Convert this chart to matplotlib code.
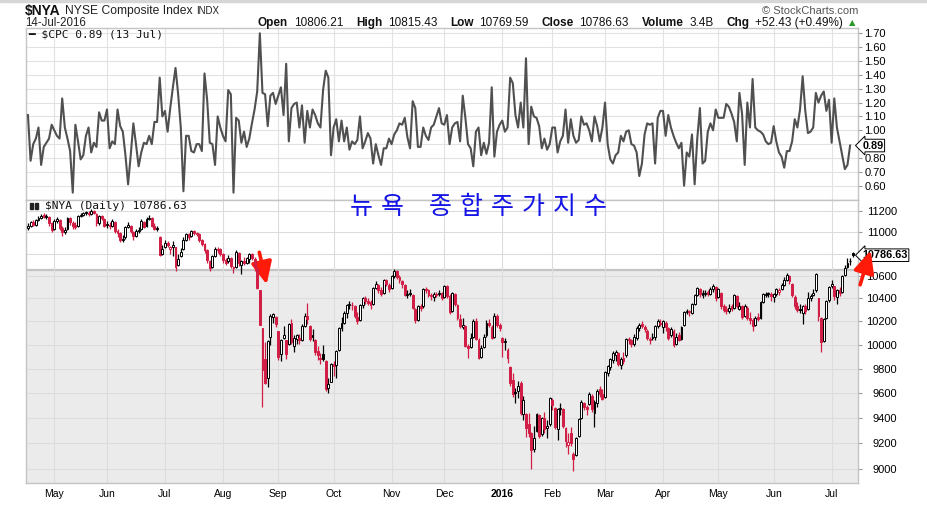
import numpy as np
import pandas as pd
import matplotlib
matplotlib.use("Agg")
import matplotlib.pyplot as plt
from matplotlib.patches import Rectangle
from matplotlib.ticker import NullLocator, NullFormatter

W, H = 928, 513
plt.rcParams['font.family'] = ['Liberation Sans', 'DejaVu Sans']

# trading calendar of the chart (NYSE days)
start_day = "2015-04-17"
end_day = "2016-07-14"
holidays = ["2015-05-25", "2015-07-03", "2015-09-07", "2015-11-26", "2015-12-25",
            "2016-01-01", "2016-01-18", "2016-02-15", "2016-03-25", "2016-05-30", "2016-07-04"]

# $CPC (put/call ratio), daily up to 13 Jul 2016
cpc = [
    1.11, 0.78, 0.90, 0.94, 1.02, 0.75, 0.88, 0.91, 0.94, 1.04,
    1.00, 0.96, 0.94, 1.23, 1.02, 0.94, 0.85, 0.55, 1.04, 0.92,
    0.79, 0.82, 0.96, 1.02, 0.84, 0.91, 0.88, 1.13, 1.07, 1.07,
    1.15, 0.87, 0.92, 0.90, 1.15, 1.03, 0.99, 0.82, 0.61, 0.82,
    1.05, 0.90, 0.74, 0.84, 0.91, 0.90, 0.96, 0.90, 1.06, 1.06,
    1.38, 1.10, 1.14, 0.99, 1.16, 1.31, 1.45, 1.26, 1.02, 0.56,
    0.96, 0.96, 0.85, 0.84, 0.90, 0.90, 0.85, 1.41, 1.22, 0.91,
    0.90, 0.75, 1.10, 1.02, 0.96, 0.92, 1.29, 1.26, 0.55, 1.09,
    1.07, 0.91, 0.99, 0.88, 0.94, 1.05, 1.15, 1.28,
    1.70, 1.27, 1.26, 1.03, 1.25, 1.27, 1.19, 1.25, 1.31, 1.11,
    1.48, 0.92, 1.16, 1.19, 1.20, 1.02, 1.18, 0.91, 1.14, 1.02,
    1.15, 1.11, 1.05, 1.02, 1.29, 1.43, 1.38, 0.82, 1.02, 1.08,
    0.92, 1.07, 0.92, 1.02, 0.86, 0.92, 0.90, 0.93, 1.10, 0.87,
    0.92, 0.98, 0.94, 0.76, 0.90, 0.82, 0.75, 0.87, 0.87, 0.94,
    0.90, 0.97, 1.00, 1.05, 1.04, 1.09, 0.95, 0.87, 1.21, 1.16,
    0.88, 0.88, 1.02, 0.96, 0.93,
    1.02, 1.04, 1.10, 1.16, 1.05, 1.04, 1.11, 0.90, 1.02, 1.05,
    1.06, 0.92, 1.25, 1.09, 0.90, 0.87, 0.74, 0.99, 1.02, 0.82,
    0.91, 0.83, 0.91, 1.31, 0.81, 0.99, 1.04, 1.07, 0.99, 1.02,
    1.38, 1.34, 1.11, 1.02, 1.20, 1.02, 1.52, 0.90, 1.17, 1.10,
    1.09, 1.03, 0.87, 0.94, 0.86, 0.90, 1.02, 1.02, 0.84, 0.92,
    0.96, 1.15, 0.91, 1.08, 0.96, 0.91, 0.93, 1.10, 1.04, 1.05,
    1.00, 0.92, 1.10, 1.03, 0.92, 1.02, 1.20, 0.90, 0.79, 0.76,
    0.82, 0.84, 0.96, 0.92, 0.99, 1.00, 0.90, 0.89, 0.84, 0.67,
    0.76, 0.97, 1.05, 1.04, 1.05, 0.76, 1.09, 1.14, 1.14, 0.96,
    1.11, 1.02, 0.96, 0.91, 0.87, 0.91, 0.60, 0.84, 0.81, 0.97,
    0.61, 0.94, 1.16, 0.76, 0.78, 0.99, 1.05, 1.00, 1.15, 1.09,
    1.09, 1.09, 1.19, 1.17, 1.12, 1.06, 0.92, 1.27, 1.12, 0.75,
    1.20, 1.02, 1.37, 1.02, 1.00, 0.99, 0.97, 0.92, 0.90, 0.91,
    1.03, 0.92, 0.84, 0.81, 0.73, 0.85, 0.85, 0.92, 1.08, 1.02,
    1.15, 1.39, 1.14, 0.98, 0.99, 1.02, 1.27, 1.20, 1.25, 1.28,
    1.14, 1.22, 0.91, 1.23, 1.02, 0.92, 0.82, 0.72, 0.75, 0.89,
]

# $NYA daily OHLC
opens = [
    11040, 11060, 11090, 11070, 11110, 11130, 11160, 11140, 11140, 11080,
    11030, 11100, 11110, 11040, 11000, 11030, 11130, 11080, 11070, 11060,
    11150, 11160, 11180, 11180, 11170, 11200, 11170, 11080, 11150, 11120,
    11070, 11070, 11060, 11090, 11010, 10990, 10930, 10950, 11050, 11060,
    11000, 10960, 11010, 11030, 11090, 11060, 11120, 11130, 11060, 11040,
    10950, 10800, 10860, 10900, 10840, 10860, 10860, 10700, 10780, 10840,
    10930, 10980, 10960, 11010, 10990, 10980, 10930, 10890, 10830, 10730,
    10680, 10780, 10840, 10840, 10800, 10740, 10730, 10760, 10680, 10680,
    10810, 10700, 10730, 10720, 10750, 10800, 10750, 10670, 10470, 10140,
    9880, 9720, 10070, 10240, 10240, 10120, 9920, 10060, 10040, 10010,
    10190, 9990, 10050, 10060, 10040, 10160, 10250, 10160, 10070, 10040,
    9950, 9890, 9920, 9860, 9640, 9690, 9840, 9830, 9960, 10140,
    10190, 10270, 10340, 10340, 10330, 10240, 10210, 10340, 10400, 10380,
    10370, 10350, 10490, 10520, 10470, 10450, 10560, 10520, 10490, 10600,
    10640, 10590, 10550, 10520, 10430, 10450, 10430, 10310, 10210, 10330,
    10330, 10480, 10470, 10430, 10410, 10440, 10440, 10450, 10410, 10510,
    10420, 10290, 10440, 10340, 10220, 10150, 10160, 9990, 9980, 10070,
    10200, 10040, 9900, 9980, 10080, 10190, 10150, 10070, 10250, 10170,
    10060, 10020, 9960, 9810, 9710, 9610, 9620, 9680, 9430, 9430,
    9350, 9280, 9160, 9300, 9420, 9270, 9400, 9320, 9350, 9540,
    9480, 9310, 9470, 9470, 9320, 9190, 9280, 9120, 9110, 9260,
    9400, 9520, 9490, 9510, 9580, 9440, 9520, 9630, 9590, 9570,
    9760, 9810, 9870, 9910, 9930, 9830, 9890, 9910, 10040, 10040,
    10010, 10060, 10140, 10180, 10150, 10120, 10040, 10060, 10070, 10160,
    10190, 10150, 10190, 10140, 10080, 10120, 10010, 10080, 10050, 10170,
    10280, 10280, 10270, 10350, 10430, 10480, 10430, 10440, 10460, 10440,
    10480, 10500, 10410, 10450, 10330, 10310, 10290, 10330, 10320, 10420,
    10310, 10330, 10250, 10320, 10230, 10210, 10170, 10240, 10230, 10370,
    10430, 10450, 10440, 10410, 10440, 10460, 10480, 10520, 10560, 10600,
    10530, 10410, 10330, 10310, 10270, 10330, 10310, 10400, 10430, 10470,
    10400, 10230, 10030, 10230, 10390, 10510, 10510, 10410, 10470, 10460,
    10610, 10680, 10730, 10806.21,
]
highs = [
    11080, 11100, 11110, 11120, 11150, 11170, 11175, 11165, 11150, 11090,
    11120, 11140, 11120, 11060, 11050, 11140, 11140, 11100, 11090, 11160,
    11180, 11190, 11200, 11200, 11215, 11210, 11180, 11160, 11160, 11130,
    11100, 11090, 11120, 11100, 11030, 11000, 10970, 11060, 11090, 11070,
    11010, 11030, 11050, 11120, 11100, 11140, 11160, 11140, 11080, 11060,
    10960, 10880, 10930, 10920, 10870, 10920, 10860, 10800, 10850, 10950,
    10990, 10990, 11020, 11020, 11000, 10990, 10940, 10900, 10840, 10740,
    10790, 10860, 10860, 10850, 10810, 10760, 10790, 10770, 10690, 10830,
    10815, 10740, 10770, 10770, 10810, 10810, 10770, 10680, 10470, 10140,
    10020, 10040, 10260, 10270, 10250, 10120, 10050, 10160, 10040, 10190,
    10220, 10080, 10090, 10090, 10180, 10270, 10360, 10170, 10130, 10050,
    9990, 9930, 10000, 9870, 9720, 9850, 9860, 9960, 10150, 10240,
    10290, 10350, 10380, 10370, 10340, 10280, 10350, 10410, 10420, 10400,
    10390, 10500, 10550, 10530, 10500, 10570, 10570, 10540, 10610, 10660,
    10650, 10610, 10560, 10530, 10470, 10480, 10440, 10320, 10340, 10350,
    10490, 10500, 10480, 10450, 10460, 10460, 10470, 10460, 10520, 10520,
    10440, 10460, 10450, 10350, 10260, 10230, 10170, 10010, 10100, 10220,
    10230, 10060, 10000, 10090, 10210, 10220, 10170, 10270, 10260, 10190,
    10070, 10060, 9970, 9820, 9760, 9640, 9700, 9700, 9580, 9440,
    9440, 9290, 9340, 9440, 9430, 9410, 9450, 9380, 9570, 9560,
    9490, 9480, 9520, 9480, 9330, 9280, 9330, 9130, 9250, 9400,
    9540, 9530, 9500, 9610, 9590, 9540, 9630, 9660, 9630, 9780,
    9830, 9890, 9950, 9960, 9940, 9900, 9940, 10060, 10070, 10050,
    10090, 10160, 10190, 10200, 10170, 10130, 10070, 10100, 10170, 10220,
    10220, 10210, 10200, 10150, 10150, 10130, 10100, 10110, 10160, 10290,
    10310, 10300, 10360, 10440, 10500, 10490, 10470, 10470, 10470, 10500,
    10530, 10510, 10490, 10460, 10350, 10330, 10350, 10350, 10440, 10430,
    10370, 10340, 10350, 10330, 10280, 10230, 10250, 10270, 10380, 10450,
    10460, 10460, 10460, 10450, 10490, 10490, 10540, 10590, 10630, 10610,
    10540, 10430, 10370, 10350, 10340, 10350, 10460, 10440, 10480, 10630,
    10400, 10240, 10230, 10390, 10510, 10560, 10510, 10480, 10500, 10610,
    10700, 10760, 10760, 10815.43,
]
lows = [
    11020, 11050, 11060, 11060, 11100, 11120, 11130, 11120, 11060, 11000,
    11020, 11080, 11020, 10960, 10980, 11020, 11070, 11030, 11030, 11050,
    11140, 11150, 11160, 11150, 11160, 11170, 11060, 11070, 11110, 11050,
    11040, 11030, 11050, 10990, 10950, 10910, 10910, 10940, 11040, 10990,
    10930, 10950, 10990, 11020, 11040, 11050, 11110, 11050, 11020, 11010,
    10780, 10790, 10850, 10860, 10800, 10780, 10640, 10690, 10770, 10830,
    10920, 10930, 10950, 10970, 10960, 10910, 10870, 10810, 10720, 10640,
    10670, 10770, 10810, 10780, 10720, 10700, 10720, 10670, 10630, 10670,
    10690, 10620, 10700, 10710, 10720, 10740, 10640, 10480, 10170, 9490,
    9670, 9650, 10000, 10190, 10150, 9870, 9860, 10050, 9880, 10000,
    10010, 9940, 10010, 10010, 10030, 10150, 10180, 10030, 10030, 9910,
    9870, 9840, 9860, 9620, 9600, 9690, 9740, 9720, 9950, 10120,
    10180, 10230, 10310, 10300, 10230, 10180, 10200, 10320, 10350, 10340,
    10310, 10340, 10480, 10450, 10420, 10440, 10510, 10460, 10480, 10580,
    10570, 10540, 10490, 10420, 10400, 10420, 10310, 10190, 10200, 10290,
    10320, 10450, 10410, 10390, 10380, 10410, 10420, 10390, 10400, 10400,
    10260, 10280, 10330, 10210, 10140, 10130, 9980, 9890, 9970, 10060,
    10040, 9880, 9890, 9970, 10070, 10150, 10050, 10060, 10150, 10120,
    9900, 9960, 9850, 9660, 9570, 9520, 9560, 9420, 9380, 9250,
    9250, 9000, 9130, 9290, 9240, 9260, 9280, 9240, 9340, 9460,
    9310, 9230, 9420, 9320, 9170, 9120, 9180, 8990, 9100, 9250,
    9390, 9460, 9420, 9500, 9450, 9330, 9490, 9570, 9540, 9560,
    9740, 9790, 9850, 9860, 9820, 9800, 9840, 9900, 10010, 9980,
    9990, 10040, 10120, 10140, 10110, 10040, 10010, 10040, 10040, 10140,
    10160, 10100, 10120, 10040, 10070, 9980, 10000, 10030, 10040, 10160,
    10260, 10250, 10260, 10340, 10420, 10410, 10400, 10420, 10420, 10430,
    10460, 10380, 10400, 10310, 10280, 10260, 10270, 10290, 10310, 10320,
    10300, 10220, 10240, 10210, 10180, 10120, 10160, 10200, 10220, 10360,
    10410, 10410, 10380, 10370, 10420, 10430, 10470, 10510, 10550, 10530,
    10410, 10310, 10280, 10270, 10180, 10260, 10300, 10380, 10420, 10460,
    10200, 9940, 10020, 10220, 10370, 10490, 10390, 10350, 10420, 10450,
    10600, 10670, 10700, 10769.59,
]
closes = [
    11060, 11090, 11070, 11110, 11130, 11150, 11140, 11150, 11080, 11020,
    11100, 11120, 11040, 11000, 11020, 11130, 11090, 11060, 11050, 11150,
    11160, 11180, 11180, 11170, 11200, 11180, 11080, 11150, 11130, 11060,
    11070, 11060, 11100, 11010, 10990, 10930, 10940, 11050, 11070, 11010,
    10960, 11010, 11020, 11100, 11050, 11120, 11130, 11060, 11030, 11030,
    10790, 10840, 10900, 10880, 10860, 10880, 10680, 10750, 10820, 10930,
    10980, 10950, 11010, 10990, 10980, 10930, 10890, 10830, 10740, 10670,
    10780, 10840, 10830, 10800, 10740, 10720, 10760, 10690, 10670, 10820,
    10720, 10730, 10720, 10760, 10800, 10760, 10680, 10490, 10170, 9790,
    9680, 10030, 10250, 10260, 10180, 9900, 10040, 10080, 9920, 10180,
    10020, 10060, 10080, 10040, 10160, 10250, 10220, 10050, 10080, 9940,
    9910, 9880, 9880, 9630, 9670, 9840, 9820, 9950, 10140, 10190,
    10270, 10340, 10350, 10340, 10250, 10200, 10340, 10400, 10380, 10360,
    10340, 10490, 10530, 10470, 10440, 10560, 10530, 10480, 10600, 10640,
    10590, 10560, 10530, 10430, 10440, 10440, 10320, 10210, 10330, 10320,
    10480, 10470, 10430, 10420, 10440, 10430, 10450, 10400, 10510, 10420,
    10280, 10450, 10350, 10230, 10160, 10170, 9990, 9970, 10060, 10200,
    10050, 9890, 9970, 10070, 10190, 10170, 10060, 10250, 10170, 10140,
    10020, 10030, 9890, 9680, 9590, 9600, 9660, 9440, 9540, 9320,
    9280, 9150, 9240, 9430, 9260, 9400, 9310, 9340, 9560, 9500,
    9330, 9470, 9480, 9340, 9220, 9210, 9200, 9080, 9240, 9390,
    9530, 9490, 9470, 9590, 9470, 9530, 9620, 9590, 9550, 9770,
    9820, 9880, 9930, 9940, 9840, 9880, 9860, 10050, 10040, 10010,
    10070, 10140, 10170, 10160, 10130, 10060, 10050, 10070, 10160, 10200,
    10180, 10200, 10150, 10060, 10130, 10000, 10070, 10040, 10150, 10280,
    10290, 10280, 10350, 10430, 10490, 10440, 10450, 10450, 10440, 10480,
    10510, 10400, 10480, 10330, 10300, 10290, 10320, 10310, 10430, 10330,
    10330, 10240, 10330, 10230, 10210, 10160, 10230, 10220, 10370, 10440,
    10440, 10440, 10420, 10440, 10480, 10470, 10520, 10560, 10610, 10550,
    10430, 10330, 10300, 10300, 10330, 10290, 10400, 10420, 10450, 10620,
    10250, 10020, 10220, 10380, 10500, 10530, 10420, 10470, 10450, 10600,
    10670, 10720, 10734.2, 10786.63,
]

cpc_ticks = [0.60, 0.70, 0.80, 0.90, 1.00, 1.10, 1.20, 1.30, 1.40, 1.50, 1.60, 1.70]
price_ticks = [9000, 9200, 9400, 9600, 9800, 10000, 10200, 10400, 10600, 10800, 11000, 11200]
shade_top = 10655
title_ko = "뉴욕 종합주가지수"

RED = '#d01e45'
dates = pd.bdate_range(start_day, end_day, freq="C", holidays=holidays)
x = np.arange(len(dates))
o = np.array(opens, float)
hi = np.array(highs, float)
lo = np.array(lows, float)
c = np.array(closes, float)
prev = np.r_[c[0], c[:-1]]
cols = np.where(c >= prev, '#000000', RED)
faces = np.where(c < o, cols, '#ffffff')

months = dates.month
month_idx = [i for i in range(1, len(dates)) if months[i] != months[i - 1]]
month_lbl = ["2016" if dates[i].month == 1 else dates[i].strftime("%b") for i in month_idx]

fig = plt.figure(figsize=(W / 100, H / 100), dpi=100)
ax1 = fig.add_axes([26 / W, 1 - 200 / H, 832 / W, 172 / H])
ax2 = fig.add_axes([26 / W, 1 - 483 / H, 832 / W, 283 / H])
xl = (-0.74, 315.0)

# upper panel: put/call ratio
ax1.plot(x[:len(cpc)], cpc, color='#505050', lw=1.5, zorder=3)
ax1.set_xlim(*xl)
ax1.set_ylim(0.497, 1.738)
ax1.set_yticks(cpc_ticks)
# the last-value tag hides the 0.90 label, as in the original
ax1.set_yticklabels(["" if abs(v - 0.90) < 1e-9 else f"{v:.2f}" for v in cpc_ticks])
ax1.yaxis.tick_right()
ax1.tick_params(axis='y', length=3, width=0.8, color='#999999', labelsize=8, pad=1.5)
ax1.set_xticks(month_idx)
ax1.tick_params(axis='x', length=0, labelbottom=False)
ax1.grid(True, color='#e2e2e2', lw=0.8)
ax1.set_axisbelow(True)

# lower panel: candles on log scale
ax2.set_yscale('log')
ax2.set_xlim(*xl)
ax2.set_ylim(8897, 11302)
ax2.axhspan(8897, shade_top, color='#ebebeb', lw=0, zorder=0.1)
ax2.axhline(shade_top, color='#c4c4c4', lw=1.6, zorder=0.2)
ax2.vlines(x, lo, hi, colors=cols, lw=0.9, zorder=3)
ax2.bar(x, np.maximum(np.abs(c - o), 6), bottom=np.minimum(o, c), width=0.72,
        color=faces, edgecolor=cols, linewidth=0.7, zorder=4)
ax2.yaxis.set_minor_locator(NullLocator())
ax2.yaxis.set_minor_formatter(NullFormatter())
ax2.set_yticks(price_ticks)
ax2.set_yticklabels(["" if v == 10800 else str(v) for v in price_ticks])
ax2.yaxis.tick_right()
ax2.tick_params(axis='y', length=3, width=0.8, color='#999999', labelsize=8, pad=25)
for t in ax2.get_yticklabels():
    t.set_ha('right')
ax2.set_xticks(month_idx)
ax2.set_xticklabels(month_lbl, fontsize=7.5)
for t in ax2.get_xticklabels():
    if t.get_text() == "2016":
        t.set_fontweight('bold')
ax2.tick_params(axis='x', length=0, pad=4)
ax2.grid(True, color='#dcdcdc', lw=0.8)
ax2.set_axisbelow(True)

for ax in (ax1, ax2):
    for sp in ax.spines.values():
        sp.set_color('#c4c4c4')
        sp.set_linewidth(1.0)

# last-value tags
tag = dict(boxstyle='larrow,pad=0.12', fc='white', ec='black', lw=0.7)
ax1.annotate(f"{cpc[-1]:.2f}", xy=(1, cpc[-1]), xycoords=('axes fraction', 'data'),
             xytext=(3, 0), textcoords='offset points', ha='left', va='center',
             fontsize=7.8, fontweight='bold', bbox=tag, annotation_clip=False, zorder=6)
ax2.annotate(f"{closes[-1]:.2f}", xy=(1, closes[-1]), xycoords=('axes fraction', 'data'),
             xytext=(3, 0), textcoords='offset points', ha='left', va='center',
             fontsize=7.8, fontweight='bold', bbox=tag, annotation_clip=False, zorder=6)

# red arrows
arr = dict(arrowstyle='-|>,head_length=0.75,head_width=0.35', color='#ff1a0a', lw=2.6,
           shrinkA=0, shrinkB=0, mutation_scale=18)
ax2.annotate('', xy=(90.6, 10524), xytext=(87.8, 10813), arrowprops=arr, annotation_clip=False)
ax2.annotate('', xy=(319.8, 10830), xytext=(315.8, 10520), arrowprops=arr,
             annotation_clip=False, zorder=8)

# legends inside the panels
fig.text(28 / W, 1 - 35 / H, "\u2501 $CPC 0.89 (13 Jul)", family='DejaVu Sans Mono',
         fontsize=8, va='center', color='#111111')
fig.text(45 / W, 1 - 206 / H, "$NYA (Daily) 10786.63", family='DejaVu Sans Mono',
         fontsize=8, va='center', color='#111111')
for px in (30, 35):
    fig.patches.append(Rectangle((px / W, 1 - 209 / H), 3 / W, 6 / H, color='#222222',
                                 transform=fig.transFigure, figure=fig))

# Korean title, spread out like the original
cx = 361
for ch in title_ko:
    if ch == " ":
        cx += 17
        continue
    fig.text(cx / W, 1 - 207 / H, ch, family=['Noto Sans CJK KR', 'DejaVu Sans'],
             fontsize=18, fontweight='medium', color='#1414e6', ha='center', va='center')
    cx += 31

# header
renderer = fig.canvas.get_renderer()


def text_run(x0, y0, parts, x1=None):
    arts, widths, gaps = [], [], []
    for s, gap, kw in parts:
        t = fig.text(x0 / W, 1 - y0 / H, s, va='center', ha='left', **kw)
        arts.append(t)
        widths.append(t.get_window_extent(renderer).width)
        gaps.append(gap)
    gaps = np.array(gaps[:-1], float)
    if x1 is not None:
        gaps = gaps * (x1 - x0 - sum(widths)) / gaps.sum()
    xx = x0
    for i, t in enumerate(arts):
        t.set_x(xx / W)
        if i < len(gaps):
            xx += widths[i] + gaps[i]


B = dict(fontsize=8.5, fontweight='bold', color='#111111')
N = dict(fontsize=8.5, color='#111111')
text_run(25, 11, [("$NYA", 4, dict(fontsize=10, fontweight='bold', color='#111111')),
                  ("NYSE Composite Index", 4, dict(fontsize=8.7, color='#222222')),
                  ("INDX", 0, dict(fontsize=7, color='#222222'))])
fig.text(25 / W, 1 - 23 / H, "14-Jul-2016", fontsize=8.3, va='center', color='#222222')
text_run(258, 23, [("Open", 3, B), ("10806.21", 7, N), ("High", 3, B), ("10815.43", 7, N),
                   ("Low", 3, B), ("10769.59", 7, N), ("Close", 3, B), ("10786.63", 7, N),
                   ("Volume", 3, B), ("3.4B", 7, N), ("Chg", 3, B), ("+52.43 (+0.49%)", 3, N),
                   ("\u25b2", 0, dict(fontsize=6, color='#2a9a2a', family='DejaVu Sans'))],
         x1=855)
fig.text(858 / W, 1 - 11 / H, "\u00a9 StockCharts.com", fontsize=8, ha='right', va='center',
         color='#555555')
fig.patches.append(Rectangle((0, 1 - 2 / H), 1, 2 / H, color='#d6d6d6',
                             transform=fig.transFigure, figure=fig))

fig.savefig("out.png", dpi=100)
